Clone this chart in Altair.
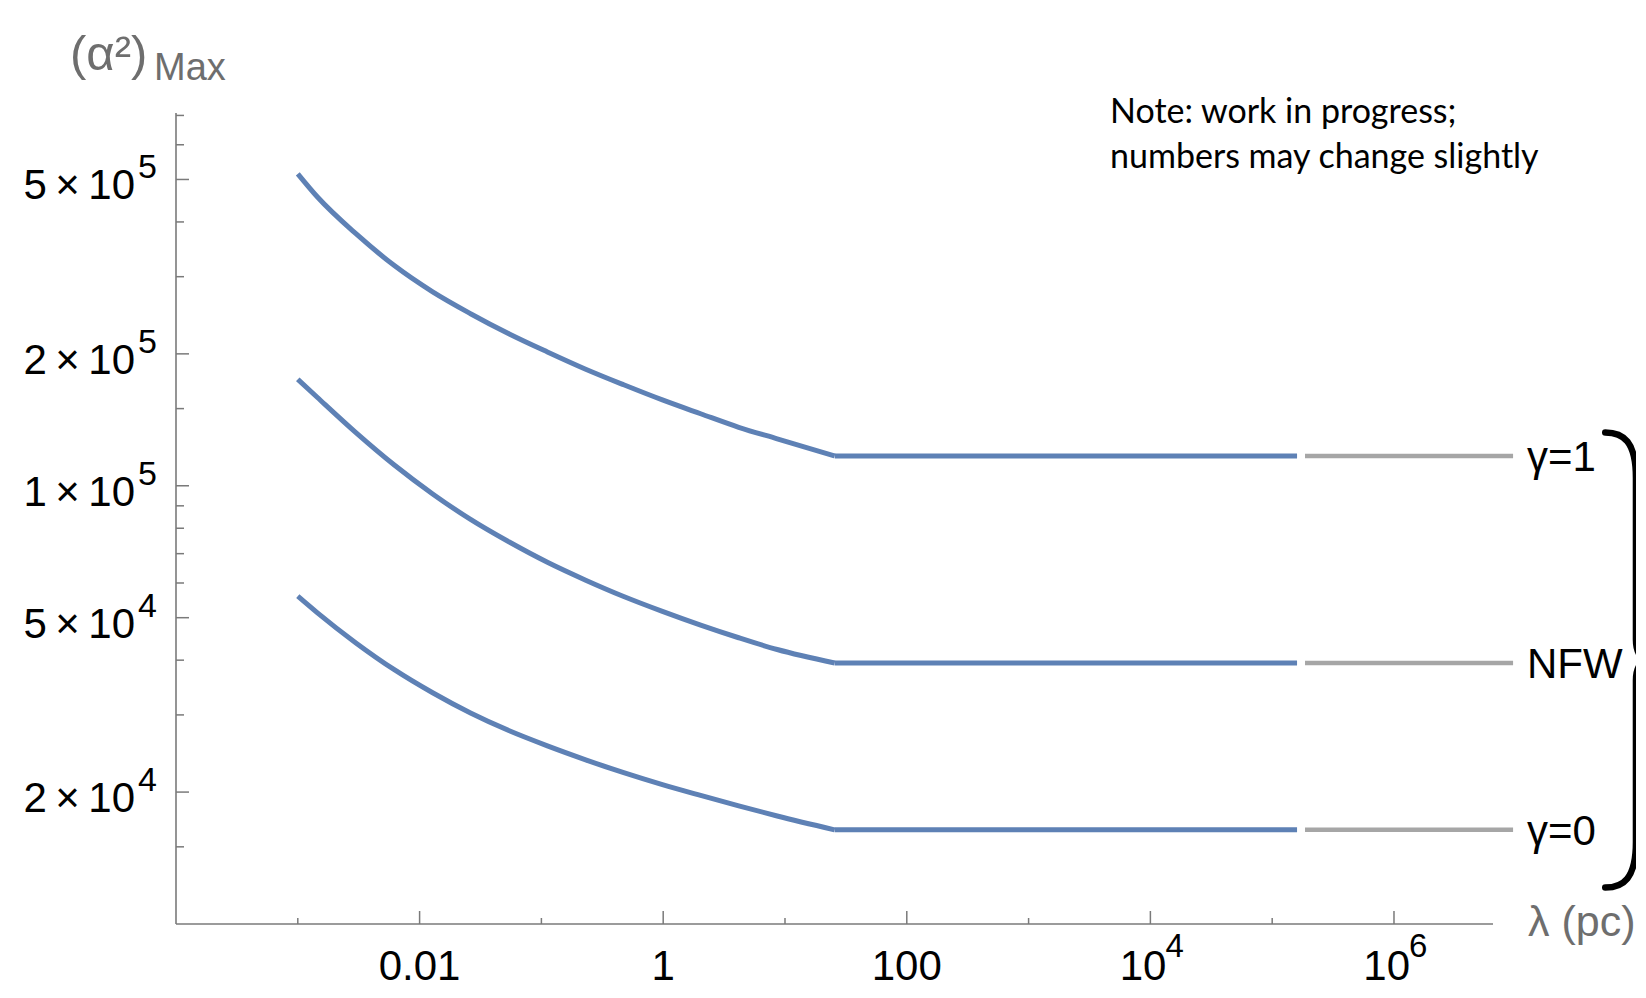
import altair as alt
import pandas as pd

# ---------------- data ----------------
lam_curve = [0.001, 0.00145, 0.0030, 0.0062, 0.0128, 0.0262, 0.0545, 0.112,
             0.231, 0.474, 0.985, 2.03, 4.17, 8.63, 25.6]
val_gamma1 = [5.15e5, 4.56e5, 3.76e5, 3.18e5, 2.77e5, 2.47e5, 2.22e5, 2.02e5,
              1.845e5, 1.70e5, 1.57e5, 1.46e5, 1.36e5, 1.28e5, 1.17e5]
val_nfw = [1.75e5, 1.59e5, 1.322e5, 1.115e5, 9.58e4, 8.38e4, 7.44e4, 6.69e4,
           6.09e4, 5.59e4, 5.17e4, 4.81e4, 4.50e4, 4.23e4, 3.94e4]
val_gamma0 = [5.60e4, 5.13e4, 4.38e4, 3.805e4, 3.37e4, 3.03e4, 2.76e4, 2.55e4,
              2.37e4, 2.215e4, 2.08e4, 1.965e4, 1.86e4, 1.764e4, 1.64e4]
lam_flat_end = 1.6e5
lam_gray = [1.86e5, 9.5e6]
series_names = ["γ=1", "NFW", "γ=0"]

x_major = [0.01, 1, 100, 1e4, 1e6]
x_minor = [1e-3, 0.1, 10, 1e3, 1e5]
x_plain_vals = [0.01, 1, 100]
x_plain_text = ["0.01", "1", "100"]
x_pow_vals = [1e4, 1e6]
x_pow_base = ["10", "10"]
x_pow_exp = ["4", "6"]

y_major = [2e4, 5e4, 1e5, 2e5, 5e5]
y_major_base = ["2\u2009×\u200910", "5\u2009×\u200910", "1\u2009×\u200910",
                "2\u2009×\u200910", "5\u2009×\u200910"]
y_major_exp = ["4", "4", "5", "5", "5"]
y_minor = [1.5e4, 3e4, 4e4, 6e4, 7e4, 8e4, 9e4, 1.5e5, 3e5, 4e5, 6e5, 7e5]

x_domain = [1e-4, 6.5e6]
y_domain = [1e4, 7.09e5]

note_text = "Note: work in progress;\nnumbers may change slightly"
y_title_main = "(α²)"
y_title_sub = "Max"
x_title = "λ (pc)"

# ---------------- tables ----------------
all_vals = [val_gamma1, val_nfw, val_gamma0]

rows = []
for name, vals in zip(series_names, all_vals):
    for i, (l, v) in enumerate(zip(lam_curve, vals)):
        rows.append({"series": name, "lam": l, "val": v, "o": i})
curves = pd.DataFrame(rows)

flat_rows = []
for name, vals in zip(series_names, all_vals):
    flat_rows.append({"series": name, "lam": lam_curve[-1], "val": vals[-1], "o": 0})
    flat_rows.append({"series": name, "lam": lam_flat_end, "val": vals[-1], "o": 1})
flat = pd.DataFrame(flat_rows)

gray_rows = []
for name, vals in zip(series_names, all_vals):
    for i, l in enumerate(lam_gray):
        gray_rows.append({"series": name, "lam": l, "val": vals[-1], "o": i})
gray = pd.DataFrame(gray_rows)

labels_df = pd.DataFrame({"series": series_names, "val": [v[-1] for v in all_vals]})

W, H = 1317, 811
FONT = "Liberation Sans"
AX_COL = "#7a7a7a"
TITLE_COL = "#6e6e6e"
BLUE = "#5E81B5"
GRAY = "#A6A6A6"

xs = alt.Scale(type="log", domain=x_domain)
ys = alt.Scale(type="log", domain=y_domain)

blue = alt.Chart(curves).mark_line(color=BLUE, strokeWidth=5, interpolate="monotone").encode(
    x=alt.X("lam:Q", scale=xs, axis=None),
    y=alt.Y("val:Q", scale=ys, axis=None),
    detail="series:N",
    order="o:Q",
)
blue_flat = alt.Chart(flat).mark_line(color=BLUE, strokeWidth=5).encode(
    x=alt.X("lam:Q", scale=xs, axis=None),
    y=alt.Y("val:Q", scale=ys, axis=None),
    detail="series:N",
    order="o:Q",
)

grayl = alt.Chart(gray).mark_line(color=GRAY, strokeWidth=4.5).encode(
    x=alt.X("lam:Q", scale=xs, axis=None),
    y=alt.Y("val:Q", scale=ys, axis=None),
    detail="series:N",
    order="o:Q",
)

one = pd.DataFrame({"k": [0]})
x_dom = alt.Chart(one).mark_rule(color=AX_COL, strokeWidth=1.6).encode(
    x=alt.value(0), x2=alt.value(W), y=alt.value(H))
y_dom = alt.Chart(one).mark_rule(color=AX_COL, strokeWidth=1.6).encode(
    x=alt.value(0), y=alt.value(0), y2=alt.value(H))

xt_major = alt.Chart(pd.DataFrame({"lam": x_major})).mark_rule(color=AX_COL, strokeWidth=1.5).encode(
    x=alt.X("lam:Q", scale=xs, axis=None), y=alt.value(H), y2=alt.value(H - 13))
xt_minor = alt.Chart(pd.DataFrame({"lam": x_minor})).mark_rule(color=AX_COL, strokeWidth=1.5).encode(
    x=alt.X("lam:Q", scale=xs, axis=None), y=alt.value(H), y2=alt.value(H - 6))
yt_major = alt.Chart(pd.DataFrame({"val": y_major})).mark_rule(color=AX_COL, strokeWidth=1.5).encode(
    y=alt.Y("val:Q", scale=ys, axis=None), x=alt.value(0), x2=alt.value(13))
yt_minor = alt.Chart(pd.DataFrame({"val": y_minor})).mark_rule(color=AX_COL, strokeWidth=1.5).encode(
    y=alt.Y("val:Q", scale=ys, axis=None), x=alt.value(0), x2=alt.value(8))

LBL_Y = H + 56
xl_plain = alt.Chart(pd.DataFrame({"lam": x_plain_vals, "t": x_plain_text})).mark_text(
    font=FONT, fontSize=42, color="black", align="center", baseline="alphabetic").encode(
    x=alt.X("lam:Q", scale=xs, axis=None), y=alt.value(LBL_Y), text="t:N")
xl_base = alt.Chart(pd.DataFrame({"lam": x_pow_vals, "t": x_pow_base})).mark_text(
    font=FONT, fontSize=42, color="black", align="right", baseline="alphabetic", dx=16).encode(
    x=alt.X("lam:Q", scale=xs, axis=None), y=alt.value(LBL_Y), text="t:N")
xl_exp = alt.Chart(pd.DataFrame({"lam": x_pow_vals, "t": x_pow_exp})).mark_text(
    font=FONT, fontSize=33, color="black", align="left", baseline="alphabetic", dx=15).encode(
    x=alt.X("lam:Q", scale=xs, axis=None), y=alt.value(LBL_Y - 23), text="t:N")

yl_base = alt.Chart(pd.DataFrame({"val": y_major, "t": y_major_base})).mark_text(
    font=FONT, fontSize=42, color="black", align="right", baseline="alphabetic", dy=20).encode(
    y=alt.Y("val:Q", scale=ys, axis=None), x=alt.value(-41), text="t:N")
yl_exp = alt.Chart(pd.DataFrame({"val": y_major, "t": y_major_exp})).mark_text(
    font=FONT, fontSize=34, color="black", align="right", baseline="alphabetic", dy=-1).encode(
    y=alt.Y("val:Q", scale=ys, axis=None), x=alt.value(-19), text="t:N")

series_lbl = alt.Chart(labels_df).mark_text(
    font=FONT, fontSize=42, color="black", align="left", baseline="middle", dy=2).encode(
    y=alt.Y("val:Q", scale=ys, axis=None), x=alt.value(1351), text="series:N")

t_main = alt.Chart(pd.DataFrame({"t": [y_title_main]})).mark_text(
    font=FONT, fontSize=49, color=TITLE_COL, align="left", baseline="alphabetic").encode(
    x=alt.value(-106), y=alt.value(-43), text="t:N")
t_sub = alt.Chart(pd.DataFrame({"t": [y_title_sub]})).mark_text(
    font=FONT, fontSize=38, color=TITLE_COL, align="left", baseline="alphabetic").encode(
    x=alt.value(-22), y=alt.value(-33), text="t:N")
t_x = alt.Chart(pd.DataFrame({"t": [x_title]})).mark_text(
    font=FONT, fontSize=43, color=TITLE_COL, align="left", baseline="middle").encode(
    x=alt.value(1352), y=alt.value(H - 1), text="t:N")

note = alt.Chart(pd.DataFrame({"t": [note_text]})).mark_text(
    font="Lato", fontSize=34, color="black", align="left", baseline="alphabetic",
    lineBreak="\n", lineHeight=45).encode(
    x=alt.value(934), y=alt.value(10), text="t:N")

brace_path = ("M -0.1 -1 C -0.02 -1 0.035 -0.96 0.035 -0.8 L 0.035 -0.09 "
              "C 0.035 -0.03 0.06 0 0.095 0 C 0.06 0 0.035 0.03 0.035 0.09 "
              "L 0.035 0.8 C 0.035 0.96 -0.02 1 -0.1 1")
brace = alt.Chart(one).mark_point(
    shape=brace_path, size=(2 * 227.5) ** 2, filled=False, stroke="black",
    strokeWidth=6.5, opacity=1, strokeCap="round").encode(
    x=alt.value(1452), y=alt.value(547))

chart = alt.layer(
    blue, blue_flat, grayl, x_dom, y_dom, xt_major, xt_minor, yt_major, yt_minor,
    xl_plain, xl_base, xl_exp, yl_base, yl_exp, series_lbl,
    t_main, t_sub, t_x, note, brace,
).properties(
    width=W, height=H,
    autosize=alt.AutoSizeParams(type="none"),
    padding={"left": 168, "top": 105, "right": 143, "bottom": 66},
    background="white",
).configure_view(stroke="transparent")

chart.save("out.html", embed_options={"renderer": "svg", "actions": False})
